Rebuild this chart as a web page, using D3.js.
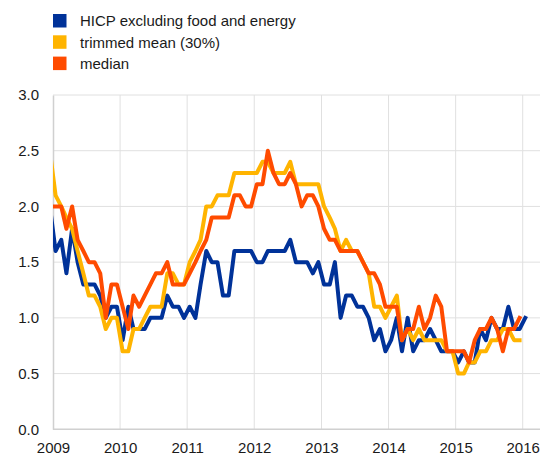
<!DOCTYPE html>
<html><head><meta charset="utf-8">
<script src="https://cdnjs.cloudflare.com/ajax/libs/d3/7.8.5/d3.min.js"></script>
<style>
html,body{margin:0;padding:0;background:#fff;}
svg{display:block;font-family:Arial,"Liberation Sans",sans-serif;}
</style></head>
<body>
<svg id="chart" width="544" height="457"></svg>
<script>
(function(){
// first observation: December 2008 (monthly, mid-month), clipped at the left axis
const firstMonth = [2008, 11];
const seriesNames = ["HICP excluding food and energy", "trimmed mean (30%)", "median"];
const seriesColors = ["#003299", "#ffb400", "#ff4b00"];
const hicpx = [2.0,
  1.6,1.7,1.4,1.8,1.5,1.3,1.3,1.3,1.2,1.0,1.1,1.1,
  0.8,1.1,0.9,0.9,0.9,1.0,1.0,1.0,1.2,1.1,1.1,1.0,
  1.1,1.0,1.3,1.6,1.5,1.5,1.2,1.2,1.6,1.6,1.6,1.6,
  1.5,1.5,1.6,1.6,1.6,1.6,1.7,1.5,1.5,1.5,1.4,1.5,
  1.3,1.3,1.5,1.0,1.2,1.2,1.1,1.1,1.0,0.8,0.9,0.7,
  0.8,1.0,0.7,1.0,0.7,0.8,0.8,0.9,0.8,0.7,0.7,0.7,
  0.6,0.7,0.6,0.6,0.9,0.8,1.0,0.9,0.9,1.1,0.9,0.9,
  1.0];
const trimmedMean = [2.5,
  2.1,2.0,1.9,1.8,1.6,1.4,1.2,1.2,1.1,0.9,1.0,1.0,
  0.7,0.7,0.9,0.9,1.0,1.1,1.1,1.1,1.4,1.4,1.3,1.3,
  1.5,1.6,1.7,2.0,2.0,2.1,2.1,2.1,2.3,2.3,2.3,2.3,
  2.3,2.4,2.4,2.3,2.3,2.3,2.4,2.2,2.2,2.2,2.2,2.2,
  2.0,1.9,1.8,1.6,1.7,1.6,1.6,1.5,1.4,1.1,1.1,1.0,
  1.1,1.2,0.8,0.9,0.8,0.9,0.8,0.8,0.8,0.8,0.7,0.7,
  0.5,0.5,0.6,0.6,0.7,0.7,0.8,0.8,0.9,0.9,0.8,0.8];
const median = [2.0,
  2.0,2.0,1.8,2.0,1.7,1.6,1.5,1.5,1.4,1.0,1.3,1.3,
  1.1,0.9,1.2,1.1,1.2,1.3,1.4,1.4,1.5,1.3,1.3,1.3,
  1.4,1.5,1.6,1.7,1.9,1.9,1.9,1.9,2.1,2.1,2.0,2.0,
  2.2,2.2,2.5,2.3,2.2,2.2,2.3,2.2,2.0,2.1,2.1,2.0,
  1.8,1.7,1.7,1.6,1.6,1.6,1.6,1.5,1.4,1.4,1.3,1.1,
  1.1,1.1,0.8,0.9,0.9,1.1,0.9,1.0,1.2,1.1,0.7,0.7,
  0.7,0.7,0.6,0.8,0.9,0.9,1.0,0.9,0.7,0.9,0.9,1.0];
const yTicks = [0, 0.5, 1.0, 1.5, 2.0, 2.5, 3.0];
const xTickYears = [2009, 2010, 2011, 2012, 2013, 2014, 2015, 2016];

const svg = d3.select("#chart");
const pLeft = 53, pRight = 540, pTop = 95, pBottom = 429.3;
const x = d3.scaleTime()
  .domain([new Date(2009,0,1), new Date(2016,0,1)])
  .range([pLeft, 522.7]);
const y = d3.scaleLinear().domain([0, 3]).range([pBottom, pTop]);
const monthDate = i => new Date(firstMonth[0], firstMonth[1] + i, 15);

// grid
const grid = svg.append("g");
grid.selectAll("line.h").data(yTicks.filter(d => d > 0)).join("line")
  .attr("x1", pLeft).attr("x2", pRight)
  .attr("y1", d => y(d)).attr("y2", d => y(d))
  .attr("stroke", "#e0e0e0").attr("stroke-width", 1);
grid.selectAll("line.v").data(xTickYears.slice(1)).join("line")
  .attr("x1", d => x(new Date(d,0,1))).attr("x2", d => x(new Date(d,0,1)))
  .attr("y1", pTop).attr("y2", pBottom)
  .attr("stroke", "#e0e0e0").attr("stroke-width", 1);

// axes
const yAxis = d3.axisLeft(y).tickValues(yTicks).tickFormat(d3.format(".1f")).tickSize(0).tickPadding(14);
const gy = svg.append("g").attr("transform", `translate(${pLeft},0)`).call(yAxis);
gy.select(".domain").attr("stroke", "#d0d0d0").attr("stroke-width", 1.5);
gy.selectAll("text").attr("font-size", 15).attr("fill", "#1a1a1a").attr("font-family", "Arial, 'Liberation Sans', sans-serif");

const xAxis = d3.axisBottom(x).tickValues(xTickYears.map(d => new Date(d,0,1)))
  .tickFormat(d3.timeFormat("%Y")).tickSize(0).tickPadding(13);
const gx = svg.append("g").attr("transform", `translate(0,${pBottom})`).call(xAxis);
gx.select(".domain").attr("d", `M${pLeft},0H${pRight}`).attr("stroke", "#d0d0d0").attr("stroke-width", 1.5);
gx.selectAll("text").attr("font-size", 15).attr("fill", "#1a1a1a").attr("font-family", "Arial, 'Liberation Sans', sans-serif");

// clip
svg.append("clipPath").attr("id", "clip").append("rect")
  .attr("x", pLeft).attr("y", 0).attr("width", pRight - pLeft).attr("height", pBottom);

const line = d3.line().x((d, i) => x(monthDate(i))).y(d => y(d));
const allSeries = [hicpx, trimmedMean, median];
svg.append("g").attr("clip-path", "url(#clip)")
  .selectAll("path").data(allSeries).join("path")
  .attr("d", d => line(d))
  .attr("fill", "none")
  .attr("stroke", (d, i) => seriesColors[i])
  .attr("stroke-width", 4)
  .attr("stroke-linejoin", "round")
  .attr("stroke-linecap", "square");

// legend
const lg = svg.append("g");
const rows = lg.selectAll("g").data(seriesNames).join("g")
  .attr("transform", (d, i) => `translate(53,${14 + i * 21.3})`);
rows.append("rect").attr("width", 13.5).attr("height", 13.5)
  .attr("fill", (d, i) => seriesColors[i]);
rows.append("text").attr("x", 27).attr("y", 7).attr("dy", "0.35em")
  .attr("font-size", 15).attr("fill", "#1a1a1a").text(d => d);
})();
</script>
</body></html>
